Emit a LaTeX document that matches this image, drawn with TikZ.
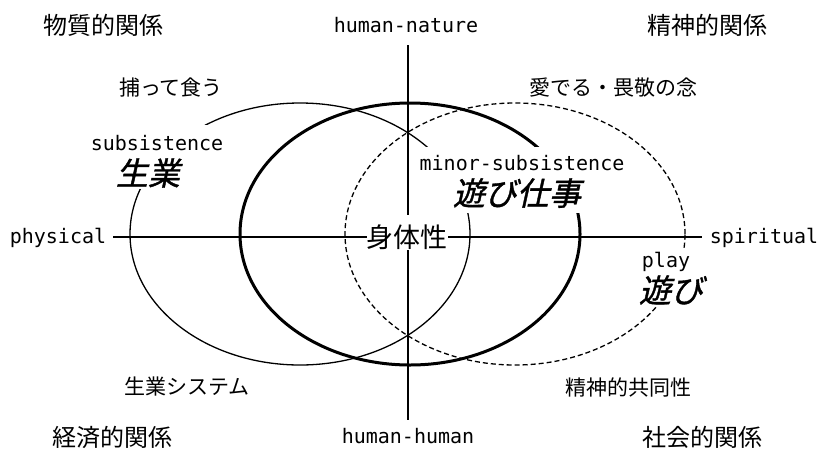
\documentclass[tikz,border=0pt]{standalone}
\usepackage{fontspec}
\setmainfont{DejaVu Sans}
\newfontfamily\jp{Noto Sans CJK JP}
\newfontfamily\jpit[FakeSlant=0.22,FakeBold=1.2]{Noto Sans CJK JP}
\newfontfamily\mono{DejaVu Sans Mono}
\begin{document}
\begin{tikzpicture}[x=1pt,y=-1pt,
  corner/.style={font=\jp\fontsize{24}{24}\selectfont, inner sep=0pt},
  small/.style={font=\jp\fontsize{21}{21}\selectfont, inner sep=0pt},
  lat/.style={font=\mono\fontsize{20}{20}\selectfont, inner sep=0pt},
  big/.style={font=\jpit\fontsize{32}{32}\selectfont, inner sep=0pt},
  mid/.style={font=\jp\fontsize{27}{27}\selectfont, inner sep=0pt},
  mask/.style={fill=white, inner sep=0pt},
  axisline/.style={line width=2pt},
  thinell/.style={line width=1.3pt},
  thickell/.style={line width=3pt},
  dashell/.style={line width=1.3pt, dash pattern=on 5pt off 3pt}]
\useasboundingbox (0,0) rectangle (818,450);
% ellipses
\draw[thinell] (300,234) ellipse [x radius=170pt, y radius=131pt];
\draw[thickell] (410,234) ellipse [x radius=170pt, y radius=131pt];
\draw[dashell] (515,234) ellipse [x radius=170pt, y radius=131pt];
% axes
\coordinate (ntop) at (408,45);
\coordinate (nbot) at (408,420);
\coordinate (wend) at (113,237);
\coordinate (eend) at (702,237);
\draw[axisline] (ntop) -- (nbot);
\draw[axisline] (wend) -- (eend);
% masks (gaps in the ellipses)
\node[mask, minimum width=138pt, minimum height=64pt] (m1) at (157,157) {};
\node[mask, minimum width=217pt, minimum height=66pt] (m2) at (521.5,180) {};
\node[mask, minimum width=73pt, minimum height=58pt] (m3) at (668.5,277) {};
\node[mask, minimum width=81pt, minimum height=35pt] (m4) at (407.5,232.5) {};
% labels
\node[corner] (q1) at (103,25) {物質的関係};
\node[corner] (q2) at (707,25) {精神的関係};
\node[corner] (q3) at (112,437) {経済的関係};
\node[corner] (q4) at (702,437) {社会的関係};
\node[lat,anchor=base] (hn) at (406,32) {human-nature};
\node[lat,anchor=base] (hh) at (408,443) {human-human};
\node[lat,anchor=base] (phys) at (58,243) {physical};
\node[lat,anchor=base] (spir) at (764,243) {spiritual};
\node[small] (t1) at (171,88) {捕って食う};
\node[small] (t2) at (613,88) {愛でる・畏敬の念};
\node[small] (t3) at (187,387) {生業システム};
\node[small] (t4) at (628,387) {精神的共同性};
\node[lat,anchor=base] (sub) at (157,150) {subsistence};
\node[big] (subj) at (148,173) {生業};
\node[lat,anchor=base] (minor) at (522,170) {minor-subsistence};
\node[big] (minj) at (517,193) {遊び仕事};
\node[lat,anchor=base] (play) at (666,267) {play};
\node[big] (playj) at (671,290) {遊び};
\node[mid] (body) at (407,237) {身体性};
\end{tikzpicture}
\end{document}
